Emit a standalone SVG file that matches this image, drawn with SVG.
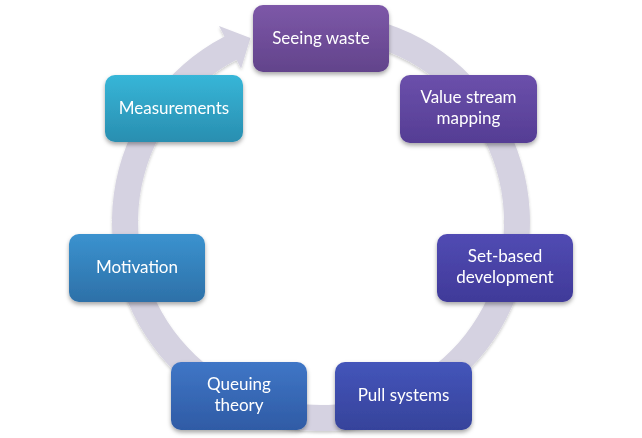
<svg xmlns="http://www.w3.org/2000/svg" width="642" height="438" viewBox="0 0 642 438">
<defs>
<style>
.lbl{font-family:Lato,"Open Sans","Liberation Sans",sans-serif;font-size:17px;fill:#ffffff;text-anchor:middle}
.box{filter:url(#sh)}
</style>
<filter id="sh" x="-20%" y="-20%" width="140%" height="150%">
<feDropShadow dx="0" dy="2.5" stdDeviation="2" flood-color="#000" flood-opacity="0.35"/>
</filter>
<filter id="sh2" x="-10%" y="-10%" width="120%" height="120%">
<feDropShadow dx="0" dy="2" stdDeviation="1.5" flood-color="#000" flood-opacity="0.2"/>
</filter>
<linearGradient id="g1" x1="0" y1="0" x2="0" y2="1"><stop offset="0" stop-color="#7d58a8"/><stop offset="1" stop-color="#62438b"/></linearGradient>
<linearGradient id="g2" x1="0" y1="0" x2="0" y2="1"><stop offset="0" stop-color="#6b50ab"/><stop offset="1" stop-color="#553d94"/></linearGradient>
<linearGradient id="g3" x1="0" y1="0" x2="0" y2="1"><stop offset="0" stop-color="#514bb3"/><stop offset="1" stop-color="#403a99"/></linearGradient>
<linearGradient id="g4" x1="0" y1="0" x2="0" y2="1"><stop offset="0" stop-color="#4455ba"/><stop offset="1" stop-color="#36439b"/></linearGradient>
<linearGradient id="g5" x1="0" y1="0" x2="0" y2="1"><stop offset="0" stop-color="#3f76c6"/><stop offset="1" stop-color="#2f5ba5"/></linearGradient>
<linearGradient id="g6" x1="0" y1="0" x2="0" y2="1"><stop offset="0" stop-color="#3b92cf"/><stop offset="1" stop-color="#2d70a8"/></linearGradient>
<linearGradient id="g7" x1="0" y1="0" x2="0" y2="1"><stop offset="0" stop-color="#37b6d8"/><stop offset="1" stop-color="#298eb0"/></linearGradient>
</defs>
<rect width="642" height="438" fill="#ffffff"/>
<g id="connectors">
<path d="M 339.2,13.8 A 209 209 0 1 1 224.5,36.6 L 219,26 L 250.4,38.1 L 241.1,68.5 L 236.5,59.7 A 183 183 0 1 0 336.95,39.7 Z" fill="#d5d2e1" filter="url(#sh2)"/>
</g>
<g id="n1" class="box"><rect x="253" y="5" width="136" height="67" rx="10" fill="url(#g1)"/><text class="lbl" x="321" y="44">Seeing waste</text></g>
<g id="n2" class="box"><rect x="400" y="75" width="137" height="68" rx="10" fill="url(#g2)"/><text class="lbl" x="468.5" y="103">Value stream</text><text class="lbl" x="468.5" y="124">mapping</text></g>
<g id="n3" class="box"><rect x="437" y="234" width="136" height="68" rx="10" fill="url(#g3)"/><text class="lbl" x="505" y="262">Set-based</text><text class="lbl" x="505" y="283">development</text></g>
<g id="n4" class="box"><rect x="335" y="362" width="137" height="68" rx="10" fill="url(#g4)"/><text class="lbl" x="403.5" y="401">Pull systems</text></g>
<g id="n5" class="box"><rect x="171" y="362" width="136" height="68" rx="10" fill="url(#g5)"/><text class="lbl" x="239" y="390">Queuing</text><text class="lbl" x="239" y="411">theory</text></g>
<g id="n6" class="box"><rect x="69" y="234" width="136" height="68" rx="10" fill="url(#g6)"/><text class="lbl" x="137" y="273">Motivation</text></g>
<g id="n7" class="box"><rect x="105" y="75" width="138" height="67" rx="10" fill="url(#g7)"/><text class="lbl" x="174" y="114">Measurements</text></g>
</svg>
